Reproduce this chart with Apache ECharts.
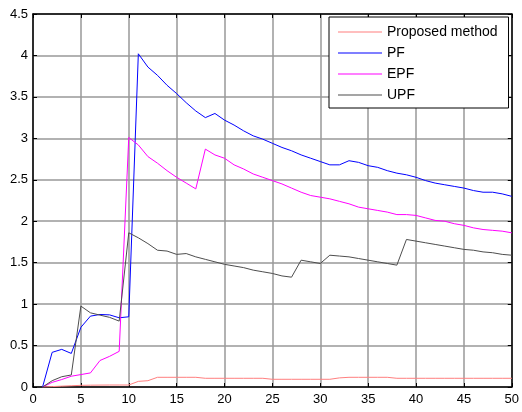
<!DOCTYPE html>
<html>
<head>
<meta charset="utf-8">
<script src="https://cdn.jsdelivr.net/npm/echarts@6/dist/echarts.min.js"></script>
<style>
html,body{margin:0;padding:0;background:#fff;}
#c{width:522px;height:412px;}
</style>
</head>
<body>
<div id="c"></div>
<script>
var xValues = [1,2,3,4,5,6,7,8,9,10,11,12,13,14,15,16,17,18,19,20,21,22,23,24,25,26,27,28,29,30,31,32,33,34,35,36,37,38,39,40,41,42,43,44,45,46,47,48,49,50];
var seriesNames = ['Proposed method', 'PF', 'EPF', 'UPF'];
var proposed = [0,0.005,0.01,0.015,0.02,0.022,0.023,0.024,0.024,0.024,
  0.068,0.076,0.117,0.117,0.117,0.117,0.117,0.105,0.105,0.105,
  0.105,0.105,0.105,0.105,0.093,0.093,0.093,0.093,0.093,0.093,
  0.093,0.11,0.117,0.117,0.117,0.117,0.117,0.105,0.105,0.105,
  0.105,0.105,0.105,0.105,0.105,0.105,0.105,0.105,0.105,0.105];
var pf = [0,0.418,0.454,0.405,0.72,0.855,0.875,0.87,0.835,0.847,
  4.02,3.86,3.76,3.64,3.54,3.43,3.33,3.25,3.30,3.22,
  3.16,3.09,3.03,2.99,2.94,2.89,2.85,2.80,2.76,2.72,
  2.68,2.68,2.73,2.71,2.67,2.65,2.61,2.58,2.56,2.53,
  2.49,2.46,2.44,2.42,2.40,2.37,2.35,2.35,2.33,2.30];
var epf = [0,0.056,0.09,0.13,0.15,0.17,0.32,0.37,0.43,3.01,
  2.92,2.78,2.70,2.61,2.53,2.46,2.39,2.87,2.80,2.76,
  2.68,2.63,2.57,2.53,2.49,2.45,2.40,2.35,2.31,2.29,
  2.27,2.24,2.21,2.17,2.15,2.13,2.11,2.08,2.08,2.07,
  2.04,2.01,2.00,1.97,1.95,1.92,1.90,1.89,1.88,1.86];
var upf = [0,0.076,0.124,0.145,0.976,0.895,0.867,0.84,0.795,1.86,
  1.80,1.73,1.65,1.64,1.60,1.61,1.57,1.54,1.51,1.48,
  1.46,1.44,1.41,1.39,1.37,1.34,1.325,1.53,1.51,1.49,
  1.59,1.58,1.57,1.55,1.53,1.51,1.49,1.47,1.78,1.76,
  1.74,1.72,1.70,1.68,1.66,1.65,1.63,1.62,1.60,1.59];
var seriesValues = [proposed, pf, epf, upf];
var seriesColors = ['#ff7f7f', '#0000ff', '#ff00ff', '#4d4d4d'];

var font = 'Liberation Sans, Arial, sans-serif';

function pairs(vals) {
  return xValues.map(function (x, i) { return [x, vals[i]]; });
}

var chart = echarts.init(document.getElementById('c'), null, {renderer: 'canvas'});

var series = seriesNames.map(function (name, k) {
  return {
    name: name,
    type: 'line',
    data: pairs(seriesValues[k]),
    symbol: 'none',
    showSymbol: false,
    animation: false,
    lineStyle: {color: seriesColors[k], width: 1},
    itemStyle: {color: seriesColors[k]},
    xAxisIndex: 0,
    yAxisIndex: 0,
    z: 3
  };
});

var tickStyle = {show: true, inside: true, length: 4, lineStyle: {color: '#000', width: 1}};
var gridStyle = {show: true, lineStyle: {color: '#999999', width: 1.5, type: 'solid'}};

chart.setOption({
  backgroundColor: '#fff',
  animation: false,
  grid: {left: 33, right: 9, top: 14, bottom: 25, containLabel: false},
  xAxis: [
    {
      type: 'value', min: 0, max: 50, interval: 5, position: 'bottom',
      axisLine: {show: true, onZero: false, lineStyle: {color: '#000', width: 1.5}},
      axisTick: tickStyle,
      axisLabel: {color: '#000', fontSize: 13, fontFamily: font, margin: 6},
      splitLine: gridStyle
    },
    {
      type: 'value', min: 0, max: 50, interval: 5, position: 'top',
      axisLine: {show: true, onZero: false, lineStyle: {color: '#000', width: 1.5}},
      axisTick: tickStyle,
      axisLabel: {show: false},
      splitLine: {show: false}
    }
  ],
  yAxis: [
    {
      type: 'value', min: 0, max: 4.5, interval: 0.5, position: 'left',
      axisLine: {show: true, onZero: false, lineStyle: {color: '#000', width: 1.5}},
      axisTick: tickStyle,
      axisLabel: {color: '#000', fontSize: 13, fontFamily: font, margin: 5},
      splitLine: gridStyle
    },
    {
      type: 'value', min: 0, max: 4.5, interval: 0.5, position: 'right',
      axisLine: {show: true, onZero: false, lineStyle: {color: '#000', width: 1.5}},
      axisTick: tickStyle,
      axisLabel: {show: false},
      splitLine: {show: false}
    }
  ],
  legend: {
    data: seriesNames,
    orient: 'vertical',
    left: 329,
    top: 17,
    align: 'left',
    icon: 'rect',
    itemWidth: 44,
    itemHeight: 1.2,
    itemGap: 7,
    padding: [8, 11, 6, 9],
    backgroundColor: '#fff',
    borderColor: '#000',
    borderWidth: 1,
    borderRadius: 0,
    textStyle: {color: '#000', fontSize: 14, fontFamily: font},
    selectedMode: false
  },
  series: series
});
</script>
</body>
</html>
